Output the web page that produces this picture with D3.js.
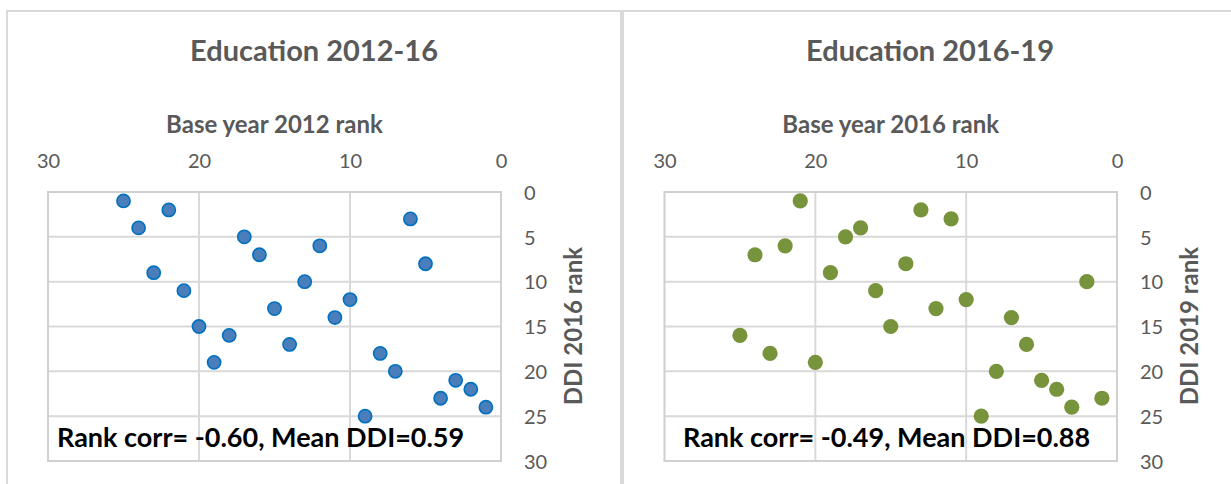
<!DOCTYPE html>
<html>
<head>
<meta charset="utf-8">
<script src="https://cdn.jsdelivr.net/npm/d3@7"></script>
<style>
  body { margin: 0; background: #fff; }
  svg { display: block; }
</style>
</head>
<body>
<svg id="chart"></svg>
<script>
var width = 1231,
    height = 484;

// data
var rank2016 = [1, 2, 3, 4, 5, 6, 7, 8, 9, 10, 11, 12, 13, 14, 15, 16, 17, 18, 19, 20, 21, 22, 23, 24, 25];
var base2012 = [25, 22, 6, 24, 17, 12, 16, 5, 23, 13, 21, 10, 15, 11, 20, 18, 14, 8, 19, 7, 3, 2, 4, 1, 9];
var rank2019 = [1, 2, 3, 4, 5, 6, 7, 8, 9, 10, 11, 12, 13, 14, 15, 16, 17, 18, 19, 20, 21, 22, 23, 24, 25];
var base2016 = [21, 13, 11, 17, 18, 22, 24, 14, 19, 2, 16, 10, 12, 7, 15, 25, 6, 23, 20, 8, 5, 4, 1, 3, 9];

var xTicks = [30, 20, 10, 0],
    yTicks = [0, 5, 10, 15, 20, 25, 30];

var titles = ["Education 2012-16", "Education 2016-19"],
    xTitles = ["Base year 2012 rank", "Base year 2016 rank"],
    yTitles = ["DDI 2016 rank", "DDI 2019 rank"],
    notes = ["Rank corr= -0.60, Mean DDI=0.59", "Rank corr= -0.49, Mean DDI=0.88"];

var font = "Lato, 'Open Sans', sans-serif",
    gray = "#595959",
    grid = "#d9d9d9";

var panels = [
    {xs: base2012, ys: rank2016, x0: 48, x1: 501, cx: 314, noteX: 57, fill: "#4a7ebb", stroke: "#0070c0", r: 6.6},
    {xs: base2016, ys: rank2019, x0: 664.5, x1: 1117, cx: 930, noteX: 683, fill: "#77933c", stroke: "none", r: 7.6}
];

var svg = d3.select("#chart")
    .attr("width", width)
    .attr("height", height)
    .style("font-family", font);

// chart frames
svg.append("line").attr("x1", 6).attr("x2", width).attr("y1", 11).attr("y2", 11)
    .attr("stroke", grid).attr("stroke-width", 2);
svg.append("line").attr("x1", 7).attr("x2", 7).attr("y1", 10).attr("y2", height)
    .attr("stroke", grid).attr("stroke-width", 2);
svg.append("line").attr("x1", 622).attr("x2", 622).attr("y1", 10).attr("y2", height)
    .attr("stroke", grid).attr("stroke-width", 4);

var y = d3.scaleLinear().domain([0, 30]).range([192, 461]);

panels.forEach(function(p, i) {
    var x = d3.scaleLinear().domain([30, 0]).range([p.x0, p.x1]);
    var g = svg.append("g");

    // grid
    g.selectAll(".vgrid").data(xTicks.slice(1, -1)).enter().append("line")
        .attr("x1", d => x(d)).attr("x2", d => x(d))
        .attr("y1", y(0)).attr("y2", y(30))
        .attr("stroke", grid).attr("stroke-width", 2);
    g.selectAll(".hgrid").data(yTicks.slice(1, -1)).enter().append("line")
        .attr("x1", p.x0).attr("x2", p.x1)
        .attr("y1", d => y(d)).attr("y2", d => y(d))
        .attr("stroke", grid).attr("stroke-width", 2);
    g.append("rect")
        .attr("x", p.x0).attr("y", y(0))
        .attr("width", p.x1 - p.x0).attr("height", y(30) - y(0))
        .attr("fill", "none").attr("stroke", "#d0d0d0").attr("stroke-width", 2);

    // axes (labels only)
    g.append("g")
        .attr("transform", "translate(0,167.5)")
        .call(d3.axisTop(x).tickValues(xTicks).tickSize(0).tickPadding(0))
        .call(a => a.select(".domain").remove())
        .selectAll("text")
        .attr("font-family", font).attr("font-size", 20).attr("fill", gray);

    g.append("g")
        .attr("transform", "translate(" + (p.x1 + 23) + ",0)")
        .call(d3.axisRight(y).tickValues(yTicks).tickSize(0).tickPadding(0))
        .call(a => a.select(".domain").remove())
        .selectAll("text")
        .attr("font-family", font).attr("font-size", 20).attr("fill", gray)
        .attr("dy", "0.36em");

    // titles
    g.append("text")
        .attr("x", p.cx).attr("y", 61)
        .attr("text-anchor", "middle")
        .attr("font-size", 29).attr("font-weight", "bold").attr("fill", gray)
        .text(titles[i]);
    g.append("text")
        .attr("x", (p.x0 + p.x1) / 2).attr("y", 132.5)
        .attr("text-anchor", "middle")
        .attr("font-size", 24).attr("font-weight", "bold").attr("fill", gray)
        .text(xTitles[i]);
    g.append("text")
        .attr("transform", "translate(" + (p.x1 + 81) + ",326) rotate(-90)")
        .attr("text-anchor", "middle")
        .attr("font-size", 24).attr("font-weight", "bold").attr("fill", gray)
        .text(yTitles[i]);

    // points
    g.selectAll("circle").data(p.xs).enter().append("circle")
        .attr("cx", d => x(d))
        .attr("cy", (d, j) => y(p.ys[j]))
        .attr("r", p.r)
        .attr("fill", p.fill)
        .attr("stroke", p.stroke)
        .attr("stroke-width", 1.6);

    // annotation
    g.append("text")
        .attr("x", p.noteX).attr("y", 447)
        .attr("font-size", 27).attr("font-weight", "bold").attr("fill", "#000")
        .text(notes[i]);
});
</script>
</body>
</html>
